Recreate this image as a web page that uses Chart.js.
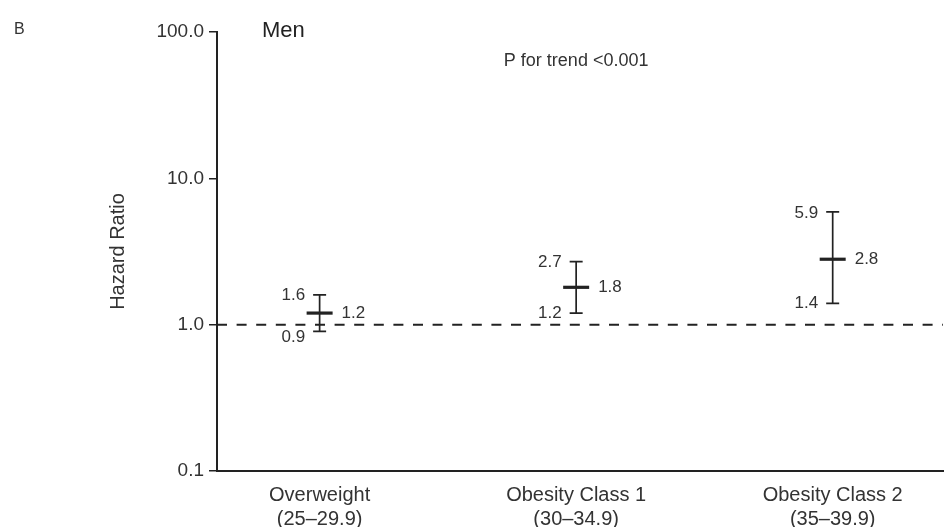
<!DOCTYPE html>
<html>
<head>
<meta charset="utf-8">
<script src="https://cdn.jsdelivr.net/npm/chart.js@4.4.1/dist/chart.umd.min.js"></script>
<style>
  html, body { margin: 0; padding: 0; background: #fff; }
  canvas { display: block; }
</style>
</head>
<body>
<canvas id="hr" width="948" height="527"></canvas>
<script>
// BMI groups, men
const categories = [
  ["Overweight", "(25–29.9)"],
  ["Obesity Class 1", "(30–34.9)"],
  ["Obesity Class 2", "(35–39.9)"]
];
const hazardRatio = [1.2, 1.8, 2.8];
const lowerCI = [0.9, 1.2, 1.4];
const upperCI = [1.6, 2.7, 5.9];
const yTicks = [0.1, 1, 10, 100];
const referenceValue = 1;

const panelLetter = "B";
const panelTitle = "Men";
const trendNote = "P for trend <0.001";
const yTitle = "Hazard Ratio";

const FONT = "'Liberation Sans', Arial, Helvetica, sans-serif";
const INK = "#222";
const TEXT = "#333";
const X_MIN = 0.6, X_MAX = 3.43;

const positions = categories.map((_, i) => i + 1);

Chart.defaults.font.family = FONT;

// Whiskers, caps and value labels for each confidence interval
const ciPlugin = {
  id: "ciBars",
  afterDatasetsDraw(chart) {
    const { ctx, scales: { x, y } } = chart;
    ctx.save();
    positions.forEach((p, i) => {
      const px = x.getPixelForValue(p);
      const yLo = y.getPixelForValue(lowerCI[i]);
      const yHi = y.getPixelForValue(upperCI[i]);
      const yEst = y.getPixelForValue(hazardRatio[i]);
      const cap = 6.5;

      ctx.strokeStyle = INK;
      ctx.lineWidth = 1.7;
      ctx.beginPath();
      ctx.moveTo(px, yHi); ctx.lineTo(px, yLo);
      ctx.moveTo(px - cap, yHi); ctx.lineTo(px + cap, yHi);
      ctx.moveTo(px - cap, yLo); ctx.lineTo(px + cap, yLo);
      ctx.stroke();

      ctx.fillStyle = TEXT;
      ctx.font = `17px ${FONT}`;
      ctx.textBaseline = "middle";
      ctx.textAlign = "right";
      ctx.fillText(upperCI[i].toFixed(1), px - cap - 8, yHi + 1);
      // keep the lower label clear of the estimate label
      ctx.fillText(lowerCI[i].toFixed(1), px - cap - 8, Math.max(yLo, yEst + 24) + 0.5);
      ctx.textAlign = "left";
      ctx.fillText(hazardRatio[i].toFixed(1), px + 22, yEst + 0.5);
    });
    ctx.restore();
  }
};

// Panel letter, panel title and trend note
const headerPlugin = {
  id: "header",
  afterDraw(chart) {
    const { ctx, chartArea, scales: { x } } = chart;
    ctx.save();
    ctx.fillStyle = TEXT;
    ctx.textBaseline = "middle";
    ctx.textAlign = "left";
    ctx.font = `16px ${FONT}`;
    ctx.fillText(panelLetter, 14, 30);
    ctx.fillStyle = INK;
    ctx.font = `22px ${FONT}`;
    ctx.fillText(panelTitle, chartArea.left + 45, chartArea.top - 1);
    ctx.fillStyle = TEXT;
    ctx.font = `18px ${FONT}`;
    ctx.textAlign = "center";
    ctx.fillText(trendNote, x.getPixelForValue(positions[1]), 61);
    ctx.restore();
  }
};

new Chart(document.getElementById("hr"), {
  data: {
    datasets: [
      {
        type: "scatter",
        data: positions.map((p, i) => ({ x: p, y: hazardRatio[i] })),
        pointStyle: "line",
        radius: 13,
        hoverRadius: 13,
        borderWidth: 3.2,
        borderColor: INK,
        backgroundColor: INK
      },
      {
        type: "line",
        data: [{ x: X_MIN, y: referenceValue }, { x: X_MAX, y: referenceValue }],
        borderColor: INK,
        borderWidth: 2,
        borderDash: [10, 9.6],
        pointRadius: 0,
        fill: false
      }
    ]
  },
  options: {
    responsive: false,
    animation: false,
    events: [],
    layout: { autoPadding: false, padding: { left: 0, top: 32, right: 5, bottom: 0 } },
    plugins: { legend: { display: false }, tooltip: { enabled: false } },
    scales: {
      x: {
        type: "linear",
        min: X_MIN,
        max: X_MAX,
        afterBuildTicks: s => { s.ticks = positions.map(v => ({ value: v })); },
        afterFit: s => { s.height = 56; s.paddingLeft = 0; s.paddingRight = 0; },
        grid: { display: false, drawTicks: false },
        border: { display: true, color: INK, width: 2 },
        ticks: {
          callback: (v, i) => categories[i],
          font: { size: 20 },
          color: TEXT,
          padding: 12,
          maxRotation: 0,
          autoSkip: false
        }
      },
      y: {
        type: "logarithmic",
        min: 0.1,
        max: 100,
        afterBuildTicks: s => { s.ticks = yTicks.map(v => ({ value: v })); },
        afterFit: s => { s.width = 217; },
        grid: { drawOnChartArea: false, drawTicks: true, tickLength: 8, color: INK, lineWidth: 1.5 },
        border: { display: true, color: INK, width: 2 },
        ticks: {
          callback: v => Number(v).toFixed(1),
          font: { size: 19 },
          color: TEXT,
          padding: 5
        },
        title: {
          display: true,
          text: yTitle,
          font: { size: 20 },
          color: TEXT,
          padding: { top: 106, bottom: 0 }
        }
      }
    }
  },
  plugins: [ciPlugin, headerPlugin]
});
</script>
</body>
</html>
